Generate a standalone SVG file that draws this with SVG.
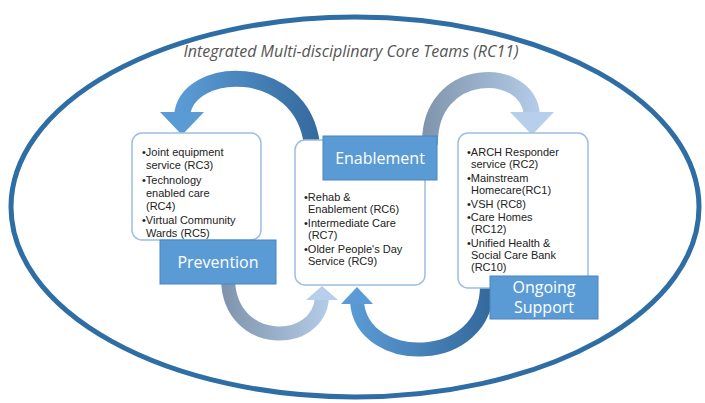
<svg xmlns="http://www.w3.org/2000/svg" width="705" height="403" viewBox="0 0 705 403">
<style>
.box{fill:#fff;stroke:#9cbfe0;stroke-width:1.5}
.lbl{fill:#5b9bd5;stroke:#4a86c0;stroke-width:1}
.lt{font-family:"Open Sans",sans-serif;font-size:16px;fill:#fff;text-anchor:middle}
.bt{font-family:"Liberation Sans",Arial,sans-serif;font-size:11px;fill:#222}
.title{font-family:"Open Sans",sans-serif;font-style:italic;font-size:16px;fill:#555;text-anchor:middle}
</style>
<defs>
<linearGradient id="gDark" gradientUnits="userSpaceOnUse" x1="180" y1="0" x2="320" y2="0">
<stop offset="0" stop-color="#5b9bd5"/><stop offset="1" stop-color="#34699c"/>
</linearGradient>
<linearGradient id="gDark2" gradientUnits="userSpaceOnUse" x1="350" y1="0" x2="490" y2="0">
<stop offset="0" stop-color="#5b9bd5"/><stop offset="1" stop-color="#34699c"/>
</linearGradient>
<linearGradient id="gLight" gradientUnits="userSpaceOnUse" x1="425" y1="0" x2="545" y2="0">
<stop offset="0" stop-color="#8095ad"/><stop offset="1" stop-color="#b7cfeb"/>
</linearGradient>
<linearGradient id="gLight2" gradientUnits="userSpaceOnUse" x1="225" y1="0" x2="335" y2="0">
<stop offset="0" stop-color="#8095ad"/><stop offset="1" stop-color="#b7cfeb"/>
</linearGradient>
</defs>
<ellipse cx="355" cy="207" rx="344" ry="190" fill="none" stroke="#2f6ea5" stroke-width="5"/>
<text class="title" x="351" y="57">Integrated Multi-disciplinary Core Teams (RC11)</text>
<g id="connectors">
<path d="M 182 116 C 186 64, 302 60, 312 145" fill="none" stroke="url(#gDark)" stroke-width="16"/>
<polygon points="160,112 204,112 182,135" fill="#5b9bd5"/>
<path d="M 430 145 C 428 64, 530 64, 532 116" fill="none" stroke="url(#gLight)" stroke-width="16"/>
<polygon points="510,112 554,112 532,135" fill="#b7cfeb"/>
<path d="M 228 280 C 230 348, 318 348, 322 298" fill="none" stroke="url(#gLight2)" stroke-width="14"/>
<polygon points="306,300 338,300 322,286" fill="#b7cfeb"/>
<path d="M 487 285 C 488 368, 362 368, 357 302" fill="none" stroke="url(#gDark2)" stroke-width="14"/>
<polygon points="341,304 373,304 357,287" fill="#5b9bd5"/>
</g>
<g id="prevention">
<rect class="box" x="132" y="133" width="129" height="107" rx="10"/>
<text class="bt"><tspan x="142" y="156">•Joint equipment</tspan><tspan x="146" y="169">service (RC3)</tspan><tspan x="142" y="184">•Technology</tspan><tspan x="146" y="197">enabled care</tspan><tspan x="146" y="210">(RC4)</tspan><tspan x="142" y="224">•Virtual Community</tspan><tspan x="146" y="237">Wards (RC5)</tspan></text>
<rect class="lbl" x="160" y="240" width="116" height="44"/>
<text class="lt" x="218" y="268">Prevention</text>
</g>
<g id="enablement">
<rect class="box" x="295" y="140" width="130" height="145" rx="10"/>
<text class="bt"><tspan x="304" y="201">•Rehab &amp;</tspan><tspan x="308" y="213">Enablement (RC6)</tspan><tspan x="304" y="227">•Intermediate Care</tspan><tspan x="308" y="239">(RC7)</tspan><tspan x="304" y="253">•Older People's Day</tspan><tspan x="308" y="265">Service (RC9)</tspan></text>
<rect class="lbl" x="323" y="136" width="114" height="44"/>
<text class="lt" x="380" y="164">Enablement</text>
</g>
<g id="ongoing">
<rect class="box" x="458" y="133" width="130" height="155" rx="10"/>
<text class="bt"><tspan x="467" y="156">•ARCH Responder</tspan><tspan x="471" y="168">service (RC2)</tspan><tspan x="467" y="182">•Mainstream</tspan><tspan x="471" y="194">Homecare(RC1)</tspan><tspan x="467" y="208">•VSH (RC8)</tspan><tspan x="467" y="221">•Care Homes</tspan><tspan x="471" y="233">(RC12)</tspan><tspan x="467" y="247">•Unified Health &amp;</tspan><tspan x="471" y="259">Social Care Bank</tspan><tspan x="471" y="271">(RC10)</tspan></text>
<rect class="lbl" x="490" y="276" width="108" height="43"/>
<text class="lt"><tspan x="544" y="293">Ongoing</tspan><tspan x="544" y="313">Support</tspan></text>
</g>
</svg>
